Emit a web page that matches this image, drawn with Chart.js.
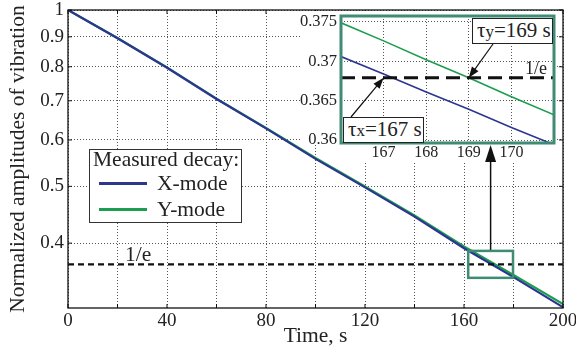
<!DOCTYPE html>
<html lang="en">
  <head>
    <meta charset="utf-8" />
    <title>Measured decay</title>
    <style>
      * {
        margin: 0;
        padding: 0;
      }
      body {
        background: #fff;
        font-family: "Liberation Serif", Tinos, "Times New Roman", "DejaVu Serif", serif;
        color: #222;
      }
      .wrap {
        position: relative;
        width: 576px;
        height: 354px;
        overflow: hidden;
      }
      canvas,
      .lbl {
        position: absolute;
      }
      .lbl {
        white-space: nowrap;
        line-height: 24px;
        font-size: 21.5px;
      }
      .legendBox {
        position: absolute;
        left: 89px;
        top: 149px;
        width: 153px;
        height: 74px;
        box-sizing: border-box;
        border: 1px solid #333;
        background: #fff;
      }
      .legendBox .swatch {
        position: absolute;
        left: 9px;
        width: 48px;
        height: 3px;
      }
      .tauBox {
        position: absolute;
        box-sizing: border-box;
        border: 1px solid #222;
        background: #fff;
        font-size: 21px;
        line-height: 22px;
        padding-left: 4px;
        white-space: nowrap;
      }
      .tauBox small {
        font-size: 17px;
      }
    </style>
  </head>
  <body>
    <div class="wrap">
      <canvas id="mainChart" width="576" height="354" style="left:0;top:0"></canvas>
      <canvas id="insetChart" width="260" height="152" style="left:296px;top:11px"></canvas>
      <canvas id="arrows" width="576" height="354" style="left:0;top:0"></canvas>

      <!-- legend -->
      <div class="legendBox">
        <div class="lbl" style="left:3px;top:-3px">Measured decay:</div>
        <div class="swatch" style="top:32px;background:#2c3590"></div>
        <div class="lbl" style="left:67px;top:21px">X-mode</div>
        <div class="swatch" style="top:58px;background:#1c9e50"></div>
        <div class="lbl" style="left:67px;top:47px">Y-mode</div>
      </div>

      <div class="lbl" style="left:125px;top:242px">1/e</div>
      <div class="lbl" style="left:525px;top:56px;font-size:18px">1/e</div>

      <div class="tauBox" style="left:472px;top:18px;width:81px;height:26px">τ<small>y</small>=169 s</div>
      <div class="tauBox" style="left:343px;top:117px;width:81px;height:26px">τ<small>x</small>=167 s</div>
    </div>

    <script src="https://cdn.jsdelivr.net/npm/chart.js"></script>

    <script>
      // main chart data
      const timeS = [0, 20, 40, 60, 80, 100, 120, 140, 160, 180, 200];
      const xModeAmp = [1.0, 0.895, 0.797, 0.705, 0.628, 0.557, 0.498, 0.444, 0.392, 0.35, 0.311];
      const yModeAmp = [1.0, 0.896, 0.798, 0.706, 0.629, 0.559, 0.5, 0.446, 0.395, 0.353, 0.315];
      const invE = 0.3679; // 1/e level
      const xTicks = [0, 20, 40, 60, 80, 100, 120, 140, 160, 180, 200];
      const yTicks = [0.4, 0.5, 0.6, 0.7, 0.8, 0.9, 1];

      // zoomed window marked on the main chart
      const zoomBoxT = [161.7, 179.8];
      const zoomBoxA = [0.349, 0.388];

      // inset data
      const insetTime = [166, 167, 168, 169, 170, 171];
      const insetXAmp = [0.3706, 0.3684, 0.3661, 0.3639, 0.3616, 0.3594];
      const insetYAmp = [0.3749, 0.3726, 0.3702, 0.3679, 0.3655, 0.3632];
      const insetXTicks = [167, 168, 169, 170];
      const insetYTicks = [0.36, 0.365, 0.37, 0.375];
      const tauX = 167;
      const tauY = 169;

      const blue = "#2c3590";
      const green = "#1c9e50";
      const teal = "#3f8b74";
      const gridColor = "#555";

      Chart.defaults.font.family = '"Liberation Serif", Tinos, "Times New Roman", "DejaVu Serif", serif';
      Chart.defaults.color = "#222";

      const pts = (xs, ys) => xs.map((x, i) => ({ x: x, y: ys[i] }));

      // fixed axis size, no extra room for overhanging labels
      const fixSize = (w, h) => (s) => {
        if (w) s.width = w;
        if (h) s.height = h;
        s.paddingTop = 0;
        s.paddingBottom = 0;
        s.paddingLeft = 0;
        s.paddingRight = 0;
      };

      // frame, inward ticks and the zoom box
      const mainFrame = {
        id: "mainFrame",
        afterDraw(chart) {
          const { ctx, chartArea: a, scales } = chart;
          ctx.save();
          ctx.strokeStyle = "#111";
          ctx.lineWidth = 1.3;
          ctx.strokeRect(a.left, a.top, a.right - a.left, a.bottom - a.top);
          ctx.lineWidth = 1;
          ctx.beginPath();
          xTicks.forEach((t) => {
            const px = scales.x.getPixelForValue(t);
            ctx.moveTo(px, a.bottom);
            ctx.lineTo(px, a.bottom - 4);
            ctx.moveTo(px, a.top);
            ctx.lineTo(px, a.top + 4);
          });
          yTicks.forEach((v) => {
            const py = scales.y.getPixelForValue(v);
            ctx.moveTo(a.left, py);
            ctx.lineTo(a.left + 4, py);
            ctx.moveTo(a.right, py);
            ctx.lineTo(a.right - 4, py);
          });
          ctx.stroke();
          // zoom box
          const x1 = scales.x.getPixelForValue(zoomBoxT[0]);
          const x2 = scales.x.getPixelForValue(zoomBoxT[1]);
          const y1 = scales.y.getPixelForValue(zoomBoxA[1]);
          const y2 = scales.y.getPixelForValue(zoomBoxA[0]);
          ctx.strokeStyle = teal;
          ctx.lineWidth = 2.5;
          ctx.strokeRect(x1, y1, x2 - x1, y2 - y1);
          ctx.restore();
        },
      };

      const mainChart = new Chart(document.getElementById("mainChart"), {
        type: "line",
        data: {
          datasets: [
            {
              label: "1/e",
              data: [
                { x: 0, y: invE },
                { x: 200, y: invE },
              ],
              borderColor: "#111",
              borderWidth: 2.3,
              borderDash: [6, 4],
              pointRadius: 0,
            },
            {
              label: "X-mode",
              data: pts(timeS, xModeAmp),
              borderColor: blue,
              borderWidth: 2.2,
              pointRadius: 0,
            },
            {
              label: "Y-mode",
              data: pts(timeS, yModeAmp),
              borderColor: green,
              borderWidth: 2.2,
              pointRadius: 0,
            },
          ],
        },
        options: {
          responsive: false,
          animation: false,
          layout: { padding: { top: 10, right: 13, bottom: 0, left: 0 } },
          plugins: { legend: { display: false }, tooltip: { enabled: false } },
          scales: {
            x: {
              type: "linear",
              min: 0,
              max: 200,
              afterBuildTicks: (s) => {
                s.ticks = xTicks.map((v) => ({ value: v }));
              },
              afterFit: fixSize(0, 46),
              ticks: {
                autoSkip: false,
                maxRotation: 0,
                padding: 2,
                font: { size: 19 },
                callback: (v) => (v % 40 === 0 ? String(v) : ""),
              },
              grid: { color: gridColor, lineWidth: 1, drawTicks: false },
              border: { display: false, dash: [1, 2] },
              title: {
                display: true,
                text: "Time, s",
                font: { size: 21.5 },
                padding: { top: 0, bottom: 5 },
              },
            },
            y: {
              type: "logarithmic",
              min: 0.31,
              max: 1,
              afterBuildTicks: (s) => {
                s.ticks = yTicks.map((v) => ({ value: v }));
              },
              afterFit: fixSize(68, 0),
              ticks: {
                autoSkip: false,
                padding: 4,
                font: { size: 19 },
                callback: (v) => String(v),
              },
              grid: { color: gridColor, lineWidth: 1, drawTicks: false },
              border: { display: false, dash: [1, 2] },
              title: {
                display: true,
                text: "Normalized amplitudes of vibration",
                font: { size: 21.5 },
                padding: { top: 5, bottom: 0 },
              },
            },
          },
        },
        plugins: [mainFrame],
      });

      // inset: white backing (plot + label column) and teal border
      const insetFrame = {
        id: "insetFrame",
        beforeDraw(chart) {
          const { ctx, chartArea: a } = chart;
          ctx.save();
          ctx.fillStyle = "#fff";
          ctx.fillRect(5, 0, chart.width - 5, a.bottom + 2);
          ctx.fillRect(a.left - 2, a.bottom, chart.width - a.left + 2, chart.height - a.bottom);
          ctx.restore();
        },
        afterDraw(chart) {
          const { ctx, chartArea: a } = chart;
          ctx.save();
          ctx.strokeStyle = teal;
          ctx.lineWidth = 3;
          ctx.strokeRect(a.left, a.top, a.right - a.left, a.bottom - a.top);
          ctx.restore();
        },
      };

      const insetChart = new Chart(document.getElementById("insetChart"), {
        type: "line",
        data: {
          datasets: [
            {
              label: "1/e",
              data: [
                { x: 166, y: invE },
                { x: 171, y: invE },
              ],
              borderColor: "#111",
              borderWidth: 3,
              borderDash: [14, 7],
              pointRadius: 0,
            },
            {
              label: "X-mode",
              data: pts(insetTime, insetXAmp),
              borderColor: blue,
              borderWidth: 1.6,
              pointRadius: 0,
            },
            {
              label: "Y-mode",
              data: pts(insetTime, insetYAmp),
              borderColor: green,
              borderWidth: 1.6,
              pointRadius: 0,
            },
          ],
        },
        options: {
          responsive: false,
          animation: false,
          layout: { padding: { top: 5, right: 2, bottom: 0, left: 0 } },
          plugins: { legend: { display: false }, tooltip: { enabled: false } },
          scales: {
            x: {
              type: "linear",
              min: 166,
              max: 171,
              afterBuildTicks: (s) => {
                s.ticks = insetXTicks.map((v) => ({ value: v }));
              },
              afterFit: fixSize(0, 20),
              ticks: { autoSkip: false, maxRotation: 0, padding: 0, font: { size: 16 } },
              grid: { color: gridColor, lineWidth: 1, drawTicks: false },
              border: { display: false, dash: [1, 2] },
            },
            y: {
              type: "linear",
              min: 0.35962,
              max: 0.37576,
              afterBuildTicks: (s) => {
                s.ticks = insetYTicks.map((v) => ({ value: v }));
              },
              afterFit: fixSize(45, 0),
              ticks: {
                autoSkip: false,
                padding: 4,
                font: { size: 16.5 },
                callback: (v) => String(v),
              },
              grid: { color: gridColor, lineWidth: 1, drawTicks: false },
              border: { display: false, dash: [1, 2] },
            },
          },
        },
        plugins: [insetFrame],
      });

      // arrows on top of both charts
      function arrow(ctx, x1, y1, x2, y2, len, half) {
        const a = Math.atan2(y2 - y1, x2 - x1);
        const c = Math.cos(a);
        const s = Math.sin(a);
        ctx.beginPath();
        ctx.moveTo(x1, y1);
        ctx.lineTo(x2 - len * 0.8 * c, y2 - len * 0.8 * s);
        ctx.stroke();
        ctx.beginPath();
        ctx.moveTo(x2, y2);
        ctx.lineTo(x2 - len * c + half * s, y2 - len * s - half * c);
        ctx.lineTo(x2 - len * c - half * s, y2 - len * s + half * c);
        ctx.closePath();
        ctx.fill();
      }

      const insetLeft = 296;
      const insetTop = 11;
      const ac = document.getElementById("arrows").getContext("2d");
      ac.strokeStyle = "#111";
      ac.fillStyle = "#111";
      ac.lineWidth = 1.2;

      const ix = (v) => insetLeft + insetChart.scales.x.getPixelForValue(v);
      const iy = (v) => insetTop + insetChart.scales.y.getPixelForValue(v);
      arrow(ac, 493, 44, ix(tauY), iy(invE), 11, 4);
      arrow(ac, 351, 117, ix(tauX), iy(invE), 11, 4);

      const boxMid = mainChart.scales.x.getPixelForValue((zoomBoxT[0] + zoomBoxT[1]) / 2);
      const boxTop = mainChart.scales.y.getPixelForValue(zoomBoxA[1]);
      ac.lineWidth = 1.5;
      arrow(ac, boxMid, boxTop - 1, boxMid, insetTop + insetChart.chartArea.bottom + 2, 17, 5.5);
    </script>
  </body>
</html>
